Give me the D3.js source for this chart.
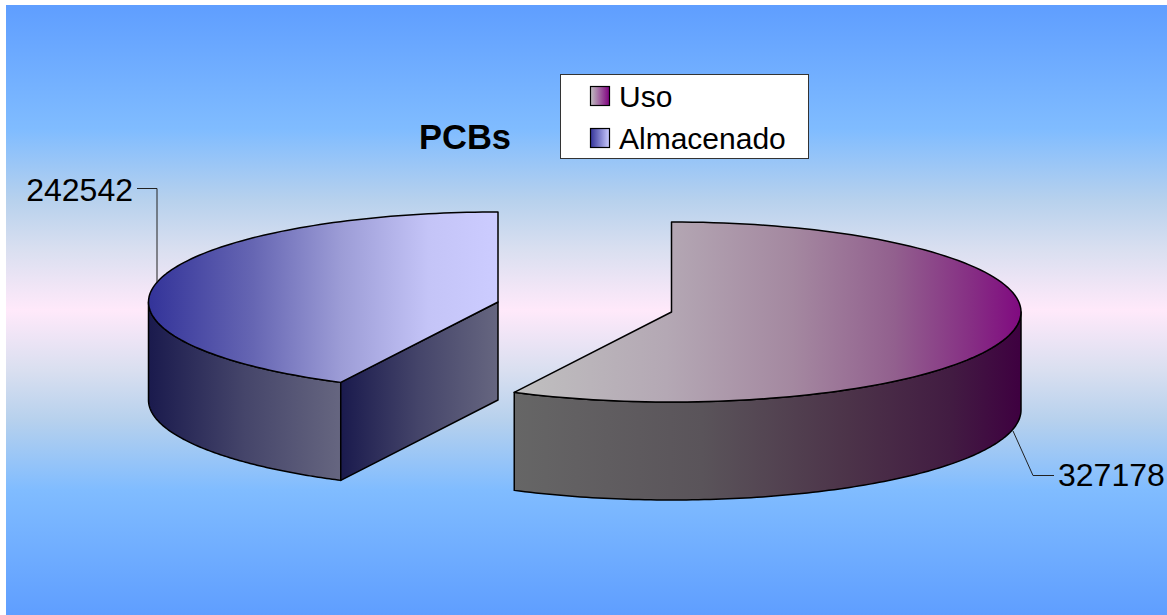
<!DOCTYPE html>
<html>
<head>
<meta charset="utf-8">
<script src="https://cdn.jsdelivr.net/npm/d3@7/dist/d3.min.js"></script>
<style>
html,body{margin:0;padding:0;background:#fff;}
svg{display:block;}
text{font-family:"Liberation Sans",Arial,sans-serif;fill:#000;}
</style>
</head>
<body>
<svg id="chart" width="1167" height="615"></svg>
<script>
// Chart content
const categories = ["Uso", "Almacenado"];
const values = [327178, 242542];
const chartTitle = "PCBs";

// Face colours per slice as horizontal ramps: [offset, colour]
const topRamps = [
  [[0, "#c0c0c0"], [0.3, "#b4a8b4"], [0.55, "#a488a0"], [0.75, "#92608e"], [0.9, "#862f84"], [1, "#800a80"]],
  [[0, "#333399"], [0.3, "#6666b3"], [0.55, "#9c9cd6"], [0.8, "#c4c4f7"], [1, "#ccccff"]]
];
const sideRamps = [
  [[0, "#666666"], [0.37, "#5a545a"], [0.66, "#4c3349"], [0.86, "#421c42"], [1, "#3e0040"]],
  [[0, "#1a1a4d"], [0.5, "#45456a"], [1, "#666680"]]
];
const swatchRamps = [
  [[0, "#c0c0c0"], [1, "#800080"]],
  [[0, "#333399"], [1, "#ccccff"]]
];
const backdropStops = [
  [0, "#5f9eff"], [0.205, "#80bcff"], [0.32, "#b7d1ed"], [0.4, "#d9dff0"], [0.5, "#ffe9fa"],
  [0.6, "#d9dff0"], [0.68, "#b7d1ed"], [0.795, "#80bcff"], [1, "#5f9eff"]
];

const W = 1167, H = 615;
const svg = d3.select("#chart");
const defs = svg.append("defs");

const rx = 349.5, ry = 90, depth = 98;
const centers = [[671.5, 312], [498, 302]];

function ramp(id, stops, x1, x2, y1 = 0, y2 = 0) {
  const g = defs.append("linearGradient").attr("id", id)
    .attr("gradientUnits", "userSpaceOnUse")
    .attr("x1", x1).attr("x2", x2).attr("y1", y1).attr("y2", y2);
  stops.forEach(([o, c]) => g.append("stop").attr("offset", o).attr("stop-color", c));
  return `url(#${id})`;
}

// Backdrop panel
const backdrop = ramp("backdrop", backdropStops, 0, 0, 5, 615);
svg.append("rect").attr("x", 6).attr("y", 5).attr("width", W - 6).attr("height", H - 5).attr("fill", backdrop);

// Slice angles run clockwise from twelve o'clock
const arcs = d3.pie().sort(null).value(d => d)(values);

const pt = (c, t, dz = 0) => [c[0] + rx * Math.sin(t), c[1] - ry * Math.cos(t) + dz];
const sampleArc = (c, a0, a1, dz = 0) => d3.range(0, 121).map(i => pt(c, a0 + (a1 - a0) * i / 120, dz));
const line = d3.line();
const q = Math.PI / 2;
const edge = sel => sel.attr("stroke", "#000").attr("stroke-width", 1.5).attr("stroke-linejoin", "round");

arcs.forEach((arc, i) => {
  const c = centers[i];
  const g = svg.append("g").attr("class", "slice");
  const visA = Math.max(arc.startAngle, q), visB = Math.min(arc.endAngle, 3 * q);
  const outerTop = sampleArc(c, visA, visB);
  const outerBottom = sampleArc(c, visA, visB, depth).reverse();
  const xs = sampleArc(c, arc.startAngle, arc.endAngle).map(p => p[0]).concat([c[0]]);
  const [xMin, xMax] = d3.extent(xs);

  // Outer wall
  const sideX = d3.extent(outerTop, p => p[0]);
  g.append("path")
    .attr("d", line(outerTop.concat(outerBottom)) + "Z")
    .attr("fill", ramp(`side${i}`, sideRamps[i], sideX[0], sideX[1]))
    .call(edge);

  // Radial cut wall, visible on the slice whose edge faces the viewer
  if (i === 1) {
    const e = pt(c, arc.startAngle);
    const wall = [[c[0], c[1]], e, [e[0], e[1] + depth], [c[0], c[1] + depth]];
    g.append("path")
      .attr("d", line(wall) + "Z")
      .attr("fill", ramp(`cut${i}`, sideRamps[i], e[0], c[0]))
      .call(edge);
  }

  // Top face
  const topFace = [c].concat(sampleArc(c, arc.startAngle, arc.endAngle));
  g.append("path")
    .attr("d", line(topFace) + "Z")
    .attr("fill", ramp(`top${i}`, topRamps[i], xMin, xMax))
    .call(edge);
});

// Title
svg.append("text").attr("x", 465).attr("y", 149).attr("text-anchor", "middle")
  .attr("font-size", 34.5).attr("font-weight", "bold").text(chartTitle);

// Value labels with leader lines
const leaders = [
  { text: values[0], x: 1058, y: 486, anchor: "start", path: [[1013, 431], [1033, 475.5], [1054, 475.5]] },
  { text: values[1], x: 133, y: 201, anchor: "end", path: [[137, 188.5], [157, 188.5], [157, 282]] }
];
leaders.forEach(l => {
  svg.append("path").attr("d", line(l.path)).attr("fill", "none").attr("stroke", "#222").attr("stroke-width", 1);
  svg.append("text").attr("x", l.x).attr("y", l.y).attr("text-anchor", l.anchor)
    .attr("font-size", 32).text(l.text);
});

// Legend
svg.append("rect").attr("x", 560.5).attr("y", 74.5).attr("width", 248).attr("height", 84)
  .attr("fill", "#fff").attr("stroke", "#333").attr("stroke-width", 1);
const legendY = d3.scalePoint().domain(categories).range([96, 138]);
categories.forEach((name, i) => {
  const y = legendY(name);
  svg.append("rect").attr("x", 590.5).attr("y", y - 9.5).attr("width", 19).attr("height", 19)
    .attr("fill", ramp(`swatch${i}`, swatchRamps[i], 590.5, 609.5))
    .attr("stroke", "#000").attr("stroke-width", 1.2);
  svg.append("text").attr("x", 619).attr("y", y + 11).attr("font-size", 30).text(name);
});
</script>
</body>
</html>
